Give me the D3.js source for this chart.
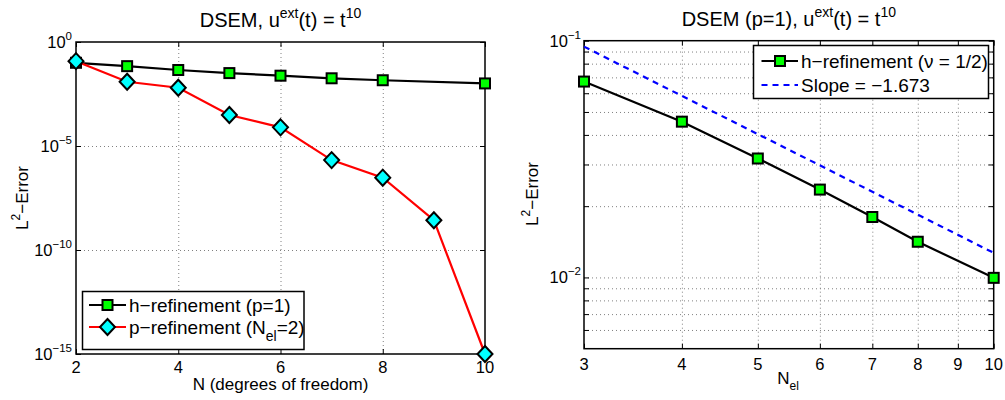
<!DOCTYPE html>
<html>
<head>
<meta charset="utf-8">
<script src="https://cdn.jsdelivr.net/npm/d3@7"></script>
<style>
  body { margin: 0; background: #fff; }
  text { font-family: "Liberation Sans", Arial, Helvetica, sans-serif; fill: #000; }
</style>
</head>
<body>
<div id="chart"></div>
<script>
// ---- data, left panel (error vs. N) ----
var leftHN = [2, 3, 4, 5, 6, 7, 8, 10];
var leftHErr = [0.1, 0.069, 0.045, 0.032, 0.024, 0.018, 0.0145, 0.0102];
var leftPN = [2, 3, 4, 5, 6, 7, 8, 9, 10];
var leftPErr = [0.12, 0.0123, 0.0063, 3.1e-4, 7.9e-5, 2.1e-6, 3.0e-7, 2.7e-9, 1.0e-15];
var leftXTicks = [2, 4, 6, 8, 10];
var leftYTicks = [1, 1e-5, 1e-10, 1e-15];
var leftYExp = ["0", "\u22125", "\u221210", "\u221215"];
var leftLegend = ["h\u2212refinement (p=1)", "p\u2212refinement (N"];

// ---- data, right panel (error vs. N_el) ----
var rightN = [3, 4, 5, 6, 7, 8, 10];
var rightErr = [0.0672, 0.0455, 0.0318, 0.0235, 0.0180, 0.01415, 0.00996];
var slopeN = [3, 10];
var slopeErr = [0.0944, 0.0127];
var rightXTicks = [3, 4, 5, 6, 7, 8, 9, 10];
var rightYTicks = [0.1, 0.01];
var rightYExp = ["\u22121", "\u22122"];
var rightYMinor = [0.09, 0.08, 0.07, 0.06, 0.05, 0.04, 0.03, 0.02, 0.009, 0.008, 0.007, 0.006];
var rightLegend = ["h\u2212refinement (\u03bd = 1/2)", "Slope = \u22121.673"];

var tickFont = 16.5, labelFont = 17, legendFont = 19, titleFont = 20;

var svg = d3.select("#chart").append("svg")
  .attr("width", 1005)
  .attr("height", 400);

function squareMarker(g, cx, cy) {
  g.append("rect")
    .attr("x", cx - 5).attr("y", cy - 5)
    .attr("width", 10).attr("height", 10)
    .attr("fill", "#00ff00")
    .attr("stroke", "#000").attr("stroke-width", 2);
}

function diamondMarker(g, cx, cy) {
  g.append("path")
    .attr("d", "M" + cx + "," + (cy - 8) + "L" + (cx + 7.5) + "," + cy +
      "L" + cx + "," + (cy + 8) + "L" + (cx - 7.5) + "," + cy + "Z")
    .attr("fill", "#00ffff")
    .attr("stroke", "#000").attr("stroke-width", 2);
}

// grid + inside ticks on all four sides
function frame(box, x, y, xGrid, yGrid, xTicks, yTicks) {
  var h = box.bottom - box.top, w = box.right - box.left;

  var gx = svg.append("g").attr("transform", "translate(0," + box.bottom + ")")
    .call(d3.axisBottom(x).tickValues(xGrid).tickSize(-h).tickFormat(""));
  var gy = svg.append("g").attr("transform", "translate(" + box.left + ",0)")
    .call(d3.axisLeft(y).tickValues(yGrid).tickSize(-w).tickFormat(""));
  [gx, gy].forEach(function(g) {
    g.select(".domain").remove();
    g.selectAll("line").attr("stroke", "#808080").attr("stroke-width", 1)
      .attr("stroke-dasharray", "1,3");
  });

  var sides = [
    [d3.axisBottom(x).tickValues(xTicks), "translate(0," + box.bottom + ")"],
    [d3.axisTop(x).tickValues(xTicks), "translate(0," + box.top + ")"],
    [d3.axisLeft(y).tickValues(yTicks), "translate(" + box.left + ",0)"],
    [d3.axisRight(y).tickValues(yTicks), "translate(" + box.right + ",0)"]
  ];
  sides.forEach(function(s) {
    var g = svg.append("g").attr("transform", s[1])
      .call(s[0].tickSizeInner(-5).tickSizeOuter(0).tickFormat(""));
    g.select(".domain").remove();
    g.selectAll("line").attr("stroke", "#000").attr("stroke-width", 1);
  });

  svg.append("rect")
    .attr("x", box.left).attr("y", box.top)
    .attr("width", w).attr("height", h)
    .attr("fill", "none").attr("stroke", "#000").attr("stroke-width", 1.5);
}

function xLabels(x, ticks, baseY) {
  svg.append("g").selectAll("text")
    .data(ticks).enter().append("text")
    .attr("x", function(d) { return x(d); })
    .attr("y", baseY)
    .attr("text-anchor", "middle")
    .style("font-size", tickFont + "px")
    .text(function(d) { return d; });
}

function yLabels(y, ticks, exps, rightX) {
  ticks.forEach(function(d, i) {
    var t = svg.append("text")
      .attr("x", rightX)
      .attr("y", y(d) + 6)
      .attr("text-anchor", "end")
      .style("font-size", tickFont + "px");
    t.append("tspan").text("10");
    t.append("tspan").attr("dy", -8).style("font-size", "11.5px").text(exps[i]);
  });
}

function title(cx, baseY, head) {
  var t = svg.append("text")
    .attr("x", cx).attr("y", baseY)
    .attr("text-anchor", "middle")
    .style("font-size", titleFont + "px");
  t.append("tspan").text(head + "u");
  t.append("tspan").attr("dy", -9).style("font-size", "14px").text("ext");
  t.append("tspan").attr("dy", 9).text("(t) = t");
  t.append("tspan").attr("dy", -9).style("font-size", "14px").text("10");
}

function yTitle(cx, cy) {
  var t = svg.append("text")
    .attr("transform", "translate(" + cx + "," + cy + ") rotate(-90)")
    .attr("text-anchor", "middle")
    .style("font-size", labelFont + "px");
  t.append("tspan").text("L");
  t.append("tspan").attr("dy", -8).style("font-size", "12px").text("2");
  t.append("tspan").attr("dy", 8).text("\u2212Error");
}

// ================= left panel =================
var LB = {left: 76, right: 485, top: 42, bottom: 354};
var xL = d3.scaleLinear().domain([2, 10]).range([LB.left, LB.right]);
var yL = d3.scaleLog().domain([1e-15, 1]).range([LB.bottom, LB.top]);

frame(LB, xL, yL, [4, 6, 8], [1e-5, 1e-10], leftXTicks, leftYTicks);
xLabels(xL, leftXTicks, 373);
yLabels(yL, leftYTicks, leftYExp, 72);
title((LB.left + LB.right) / 2, 27, "DSEM, ");
yTitle(28, 198);
svg.append("text")
  .attr("x", (LB.left + LB.right) / 2).attr("y", 390)
  .attr("text-anchor", "middle")
  .style("font-size", labelFont + "px")
  .text("N (degrees of freedom)");

var lineL = d3.line()
  .x(function(d) { return xL(d[0]); })
  .y(function(d) { return yL(d[1]); });

var hData = d3.zip(leftHN, leftHErr), pData = d3.zip(leftPN, leftPErr);
svg.append("path").datum(hData).attr("d", lineL)
  .attr("fill", "none").attr("stroke", "#000").attr("stroke-width", 2.2);
svg.append("path").datum(pData).attr("d", lineL)
  .attr("fill", "none").attr("stroke", "#ff0000").attr("stroke-width", 2.2);
var mL = svg.append("g");
hData.forEach(function(d) { squareMarker(mL, xL(d[0]), yL(d[1])); });
pData.forEach(function(d) { diamondMarker(mL, xL(d[0]), yL(d[1])); });

// legend
var legL = svg.append("g");
legL.append("rect").attr("x", 82.5).attr("y", 291.5).attr("width", 221.5).attr("height", 58)
  .attr("fill", "#fff").attr("stroke", "#000").attr("stroke-width", 1.5);
legL.append("line").attr("x1", 89).attr("x2", 126).attr("y1", 305).attr("y2", 305)
  .attr("stroke", "#000").attr("stroke-width", 2.2);
squareMarker(legL, 107.5, 305);
legL.append("line").attr("x1", 89).attr("x2", 126).attr("y1", 327).attr("y2", 327)
  .attr("stroke", "#ff0000").attr("stroke-width", 2.2);
diamondMarker(legL, 107.5, 327);
legL.append("text").attr("x", 129).attr("y", 311.5)
  .style("font-size", legendFont + "px").text(leftLegend[0]);
var pl = legL.append("text").attr("x", 129).attr("y", 333.5)
  .style("font-size", legendFont + "px");
pl.append("tspan").text(leftLegend[1]);
pl.append("tspan").attr("dy", 7).style("font-size", "14px").text("el");
pl.append("tspan").attr("dy", -7).text("=2)");

// ================= right panel =================
var RB = {left: 584, right: 993.7, top: 40.7, bottom: 348.7};
var xR = d3.scaleLog().domain([3, 10]).range([RB.left, RB.right]);
var yR = d3.scaleLog().domain([0.005, 0.1]).range([RB.bottom, RB.top]);

frame(RB, xR, yR, [4, 5, 6, 7, 8, 9], rightYMinor.concat([0.01]), rightXTicks,
  rightYTicks.concat(rightYMinor));
xLabels(xR, rightXTicks, 369.5);
yLabels(yR, rightYTicks, rightYExp, 581);
title((RB.left + RB.right) / 2, 26, "DSEM (p=1), ");
yTitle(538, 194);
var nel = svg.append("text")
  .attr("x", 788).attr("y", 384)
  .attr("text-anchor", "middle")
  .style("font-size", labelFont + "px");
nel.append("tspan").text("N");
nel.append("tspan").attr("dy", 6).style("font-size", "12px").text("el");

var lineR = d3.line()
  .x(function(d) { return xR(d[0]); })
  .y(function(d) { return yR(d[1]); });

svg.append("path").datum(d3.zip(slopeN, slopeErr)).attr("d", lineR)
  .attr("fill", "none").attr("stroke", "#0000ff").attr("stroke-width", 2.2)
  .attr("stroke-dasharray", "6,5");
var rData = d3.zip(rightN, rightErr);
svg.append("path").datum(rData).attr("d", lineR)
  .attr("fill", "none").attr("stroke", "#000").attr("stroke-width", 2.2);
var mR = svg.append("g");
rData.forEach(function(d) { squareMarker(mR, xR(d[0]), yR(d[1])); });

var legR = svg.append("g");
legR.append("rect").attr("x", 753.5).attr("y", 45.5).attr("width", 235).attr("height", 53)
  .attr("fill", "#fff").attr("stroke", "#000").attr("stroke-width", 1.5);
legR.append("line").attr("x1", 761.5).attr("x2", 798).attr("y1", 61).attr("y2", 61)
  .attr("stroke", "#000").attr("stroke-width", 2.2);
squareMarker(legR, 780, 61);
legR.append("line").attr("x1", 761.5).attr("x2", 798).attr("y1", 85).attr("y2", 85)
  .attr("stroke", "#0000ff").attr("stroke-width", 2.2).attr("stroke-dasharray", "6,5");
legR.append("text").attr("x", 801).attr("y", 67.5)
  .style("font-size", legendFont + "px").text(rightLegend[0]);
legR.append("text").attr("x", 801).attr("y", 91.5)
  .style("font-size", legendFont + "px").text(rightLegend[1]);
</script>
</body>
</html>
